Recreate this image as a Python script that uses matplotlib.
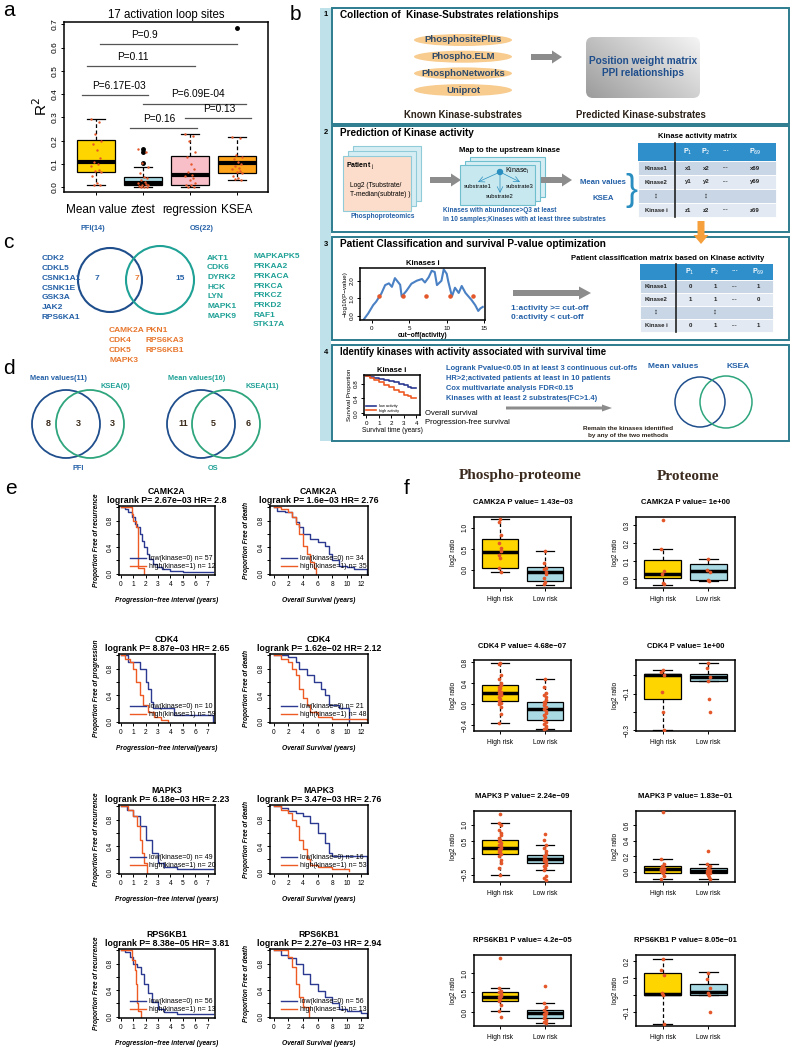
import matplotlib.pyplot as plt
import numpy as np
from matplotlib.patches import Ellipse, Circle, Rectangle, FancyBboxPatch, FancyArrow
from matplotlib.lines import Line2D
from matplotlib.colors import LinearSegmentedColormap

plt.rcParams['font.family'] = ['Liberation Sans', 'DejaVu Sans']
plt.rcParams['axes.unicode_minus'] = True

W, H = 792, 1053

# ---------------- data: panel a ----------------
methods = ['Mean value', 'ztest', 'regression', 'KSEA']
method_colors = ['#FFD500', '#A9DAE4', '#F8BFC8', '#FFA31A']
# q1, median, q3, whisker low, whisker high
a_box = [(0.065, 0.11, 0.205, 0.008, 0.295),
         (0.01, 0.02, 0.045, 0.0, 0.087),
         (0.012, 0.055, 0.133, 0.0, 0.23),
         (0.063, 0.105, 0.135, 0.033, 0.218)]
a_fliers = [[], [0.165, 0.15, 0.105], [], [0.685]]
a_points = [[0.295, 0.28, 0.23, 0.2, 0.185, 0.16, 0.125, 0.11, 0.1, 0.09, 0.075, 0.07, 0.065, 0.05, 0.02, 0.012, 0.008],
            [0.165, 0.15, 0.105, 0.087, 0.06, 0.045, 0.04, 0.03, 0.025, 0.02, 0.015, 0.01, 0.008, 0.005, 0.003, 0.0, 0.0],
            [0.23, 0.22, 0.2, 0.15, 0.13, 0.1, 0.08, 0.065, 0.055, 0.05, 0.04, 0.03, 0.02, 0.012, 0.008, 0.003, 0.0],
            [0.218, 0.21, 0.14, 0.13, 0.12, 0.11, 0.1, 0.09, 0.085, 0.08, 0.07, 0.065, 0.06, 0.05, 0.04, 0.035, 0.033]]
# label, line start, line end, line height, text x
a_tests = [('P=0.9', 1.09, 4.0, 0.614, 2.04),
           ('P=0.11', 0.81, 3.1, 0.519, 1.79),
           ('P=6.17E-03', 0.7, 2.1, 0.395, 1.5),
           ('P=6.09E-04', 2.0, 4.2, 0.36, 3.17),
           ('P=0.13', 2.9, 4.3, 0.296, 3.63),
           ('P=0.16', 1.72, 3.15, 0.253, 2.34)]

# ---------------- data: panel b ----------------
known_dbs = ['PhosphositePlus', 'Phospho.ELM', 'PhosphoNetworks', 'Uniprot']
act_cols = ['', 'P$_1$', 'P$_2$', '\u00b7\u00b7\u00b7', 'P$_{69}$']
act_rows = [['Kinase1', 'x1', 'x2', '\u00b7\u00b7\u00b7', 'x69'],
            ['Kinase2', 'y1', 'y2', '\u00b7\u00b7\u00b7', 'y69'],
            ['\u22ee', '', '\u22ee', '', ''],
            ['Kinase i', 'z1', 'z2', '\u00b7\u00b7\u00b7', 'z69']]
cls_rows = [['Kinase1', '0', '1', '\u00b7\u00b7\u00b7', '1'],
            ['Kinase2', '1', '1', '\u00b7\u00b7\u00b7', '0'],
            ['\u22ee', '', '\u22ee', '', ''],
            ['Kinase i', '0', '1', '\u00b7\u00b7\u00b7', '1']]
cut_x = [-1.1, -0.45, 0.2, 0.6, 1.3, 1.8, 2.3, 2.7, 3.1, 3.8, 4.0, 4.6, 5.3, 6.0, 6.7, 7.1, 7.6, 8.0, 8.4, 8.7,
         9.3, 9.6, 10.0, 10.2, 10.7, 11.1, 11.6, 12.0, 12.5, 12.9, 13.3, 13.8, 14.2, 14.5, 14.8]
cut_p = [-0.25, 0.13, 0.6, 0.8, 1.27, 1.75, 1.85, 1.65, 2.15, 1.77, 1.1, 1.4, 1.83, 2.0, 2.1, 1.9, 2.2, 2.57, 2.5, 1.75,
         2.0, 2.65, 2.4, 1.97, 1.1, 1.6, 1.3, 1.7, 1.3, 1.1, 0.9, 0.6, 0.27, 0.42, 0.5]
cut_sig_x = [1.0, 4.2, 7.3, 10.4, 13.5]
cut_sig_p = [1.1, 1.1, 1.1, 1.1, 1.1]
mini_t = [0, 0.3, 0.6, 1.0, 1.4, 1.8, 2.2, 2.6, 3.0, 3.3, 3.6, 4.0]
mini_low = [1, 0.97, 0.95, 0.93, 0.9, 0.87, 0.85, 0.8, 0.76, 0.7, 0.68, 0.68]
mini_high = [1, 0.95, 0.9, 0.83, 0.77, 0.7, 0.63, 0.57, 0.5, 0.45, 0.4, 0.4]
criteria = ['Logrank Pvalue<0.05 in at least 3 continuous cut-offs',
            'HR>2;activated patients at least in 10 patients',
            'Cox multivariate analysis FDR<0.15',
            'Kinases with at least 2 substrates(FC>1.4)']

# ---------------- data: panels c, d ----------------
pfi_only = ['CDK2', 'CDKL5', 'CSNK1A1', 'CSNK1E', 'GSK3A', 'JAK2', 'RPS6KA1']
os_only_a = ['AKT1', 'CDK6', 'DYRK2', 'HCK', 'LYN', 'MAPK1', 'MAPK9']
os_only_b = ['MAPKAPK5', 'PRKAA2', 'PRKACA', 'PRKCA', 'PRKCZ', 'PRKD2', 'RAF1', 'STK17A']
shared_a = ['CAMK2A', 'CDK4', 'CDK5', 'MAPK3']
shared_b = ['PKN1', 'RPS6KA3', 'RPS6KB1']
c_counts = [7, 7, 15]
d_pfi_counts = [8, 3, 3]
d_os_counts = [11, 5, 6]

# ---------------- data: panel e ----------------
genes = ['CAMK2A', 'CDK4', 'MAPK3', 'RPS6KB1']
pfi_stat = ['logrank P= 2.67e\u221203 HR= 2.8', 'logrank P= 8.87e\u221203 HR= 2.65',
            'logrank P= 6.18e\u221203 HR= 2.23', 'logrank P= 8.38e\u221205 HR= 3.81']
os_stat = ['logrank P= 1.6e\u221203 HR= 2.76', 'logrank P= 1.62e\u221202 HR= 2.12',
           'logrank P= 3.47e\u221203 HR= 2.76', 'logrank P= 2.27e\u221203 HR= 2.94']
pfi_n = [(57, 12), (10, 59), (49, 20), (56, 13)]
os_n = [(34, 35), (21, 48), (16, 53), (56, 13)]
pfi_ylab = ['Proportion Free of recurrence', 'Proportion Free of progression',
            'Proportion Free of recurrence', 'Proportion Free of recurrence']
pfi_xlab = ['Progression\u2212free interval (years)', 'Progression\u2212free interval(years)',
            'Progression\u2212free interval (years)', 'Progression\u2212free interval (years)']
pfi_low_t = [[0, 0.3, 0.6, 0.9, 1.1, 1.3, 1.5, 1.7, 1.9, 2.1, 2.3, 2.6, 2.9, 3.3, 4.0, 5.0, 7.4],
             [0, 0.6, 1.5, 2.0, 2.2, 2.4, 2.6, 4.3, 7.4],
             [0, 0.5, 1.0, 1.5, 2.0, 2.5, 3.0, 3.5, 4.5, 7.4],
             [0, 0.3, 0.7, 1.0, 1.3, 1.6, 1.9, 2.2, 2.5, 3.0, 3.5, 4.5, 7.4]]
pfi_low_s = [[1, 0.97, 0.93, 0.85, 0.75, 0.7, 0.6, 0.5, 0.4, 0.3, 0.22, 0.15, 0.1, 0.07, 0.04, 0.03, 0.03],
             [1, 0.9, 0.8, 0.6, 0.5, 0.3, 0.2, 0.1, 0.0],
             [1, 0.95, 0.85, 0.7, 0.5, 0.3, 0.15, 0.08, 0.05, 0.05],
             [1, 0.97, 0.9, 0.8, 0.75, 0.65, 0.5, 0.35, 0.22, 0.12, 0.07, 0.04, 0.04]]
pfi_high_t = [[0, 0.9, 1.0, 1.2, 1.35, 1.9],
              [0, 0.3, 0.7, 1.0, 1.2, 1.5, 1.8, 2.2, 2.7, 3.2, 3.8],
              [0, 0.6, 1.0, 1.3, 1.5, 1.7, 1.9, 2.1],
              [0, 0.9, 1.1, 1.2, 1.3, 1.4, 1.6]]
pfi_high_s = [[1, 0.9, 0.8, 0.7, 0.08, 0.0],
              [1, 0.95, 0.9, 0.8, 0.6, 0.4, 0.25, 0.15, 0.07, 0.03, 0.0],
              [1, 0.95, 0.85, 0.7, 0.5, 0.3, 0.15, 0.0],
              [1, 0.85, 0.7, 0.5, 0.2, 0.08, 0.0]]
os_low_t = [[0, 0.5, 1.5, 2.5, 3.0, 3.5, 4.0, 5.0, 6.0, 7.0, 7.5, 8.0, 9.0, 10.0, 11.0, 12.7],
            [0, 2.0, 3.0, 3.5, 4.5, 5.5, 6.5, 7.0, 7.5, 9.0, 10.3],
            [0, 1.0, 2.0, 3.0, 4.0, 5.0, 6.0, 7.0, 7.5, 8.0, 12.7],
            [0, 1.0, 2.0, 3.0, 4.0, 5.0, 6.0, 7.0, 8.0, 9.0, 10.0, 12.0, 12.7]]
os_low_s = [[1, 0.95, 0.93, 0.85, 0.78, 0.7, 0.6, 0.53, 0.48, 0.42, 0.3, 0.2, 0.12, 0.1, 0.07, 0.0],
            [1, 0.97, 0.9, 0.8, 0.7, 0.6, 0.5, 0.4, 0.25, 0.2, 0.0],
            [1, 0.97, 0.93, 0.9, 0.85, 0.75, 0.6, 0.45, 0.3, 0.25, 0.0],
            [1, 0.93, 0.88, 0.8, 0.65, 0.5, 0.38, 0.3, 0.2, 0.12, 0.08, 0.05, 0.0]]
os_high_t = [[0, 1.0, 2.0, 2.5, 3.0, 3.5, 4.0, 4.5, 5.0, 5.5, 5.8],
             [0, 1.0, 2.0, 2.5, 3.0, 3.5, 4.0, 4.5, 5.0, 6.0, 8.0, 12.7],
             [0, 1.0, 2.0, 2.5, 3.0, 3.5, 4.0, 4.5, 5.0, 6.0, 8.0, 10.3],
             [0, 1.0, 2.0, 2.5, 3.0, 3.5, 4.0, 4.8]]
os_high_s = [[1, 0.97, 0.93, 0.85, 0.75, 0.6, 0.42, 0.3, 0.18, 0.08, 0.0],
             [1, 0.95, 0.9, 0.8, 0.7, 0.5, 0.35, 0.25, 0.15, 0.07, 0.04, 0.02],
             [1, 0.95, 0.9, 0.8, 0.7, 0.5, 0.35, 0.2, 0.12, 0.08, 0.05, 0.03],
             [1, 1.0, 0.9, 0.75, 0.5, 0.3, 0.15, 0.0]]

# ---------------- data: panel f ----------------
ph_pval = ['1.43e\u221203', '4.68e\u221207', '2.24e\u221209', '4.2e\u221205']
pr_pval = ['1e+00', '1e+00', '1.83e\u221201', '8.05e\u221201']
ph_high_box = [(0.05, 0.43, 0.74, -0.04, 1.22), (0.06, 0.22, 0.36, -0.36, 0.79),
               (0.12, 0.30, 0.53, -0.5, 1.06), (0.28, 0.38, 0.5, 0.03, 0.62)]
ph_low_box = [(-0.27, -0.04, 0.06, -0.35, 0.44), (-0.31, -0.1, 0.05, -0.47, 0.48),
              (-0.15, -0.02, 0.1, -0.37, 0.4), (-0.15, -0.02, 0.05, -0.28, 0.24)]
pr_high_box = [(0.005, 0.03, 0.107, -0.035, 0.165), (-0.13, 0.0, 0.01, -0.3, 0.03),
               (-0.01, 0.04, 0.07, -0.09, 0.17), (0.0, 0.005, 0.13, -0.17, 0.21)]
pr_low_box = [(-0.008, 0.045, 0.083, -0.01, 0.112), (-0.03, -0.01, 0.01, -0.03, 0.07),
              (-0.02, 0.01, 0.045, -0.09, 0.1), (0.0, 0.02, 0.065, 0.0, 0.135)]
ph_high_pts = [[1.22, 1.15, 0.82, 0.63, 0.53, 0.45, 0.35, 0.28, 0.05, -0.04],
               [0.79, 0.77, 0.56, 0.47, 0.4, 0.36, 0.33, 0.3, 0.27, 0.24, 0.22, 0.2, 0.17, 0.14, 0.1, 0.06, 0.03, 0.0, -0.05, -0.18, -0.36],
               [1.33, 1.06, 1.0, 0.85, 0.75, 0.68, 0.6, 0.55, 0.5, 0.45, 0.4, 0.35, 0.3, 0.27, 0.22, 0.18, 0.12, 0.05, -0.05, -0.15, -0.3, -0.5],
               [1.38, 0.62, 0.55, 0.5, 0.47, 0.42, 0.38, 0.33, 0.28, 0.17, 0.03, -0.13]]
ph_low_pts = [[0.44, 0.17, 0.05, 0.02, -0.04, -0.1, -0.2, -0.28, -0.33],
              [0.48, 0.33, 0.21, 0.17, 0.13, 0.08, 0.05, 0.02, -0.02, -0.06, -0.1, -0.13, -0.17, -0.21, -0.25, -0.3, -0.34, -0.38, -0.42, -0.45, -0.47],
              [0.72, 0.55, 0.4, 0.3, 0.2, 0.12, 0.07, 0.02, -0.02, -0.06, -0.1, -0.15, -0.2, -0.25, -0.3, -0.37, -0.55, -0.6, -0.65],
              [0.66, 0.24, 0.12, 0.05, 0.0, -0.03, -0.06, -0.1, -0.15, -0.2, -0.25, -0.28]]
pr_high_pts = [[0.33, 0.165, 0.045, 0.03, -0.02, -0.03],
               [0.03, 0.02, 0.0, -0.09, -0.2, -0.3],
               [0.77, 0.17, 0.1, 0.08, 0.06, 0.05, 0.04, 0.03, 0.02, 0.01, 0.0, -0.02, -0.05, -0.09],
               [0.21, 0.15, 0.12, 0.01, 0.0, -0.17]]
pr_low_pts = [[0.11, 0.05, 0.04, -0.005, -0.01],
              [0.07, 0.04, -0.01, -0.03, -0.13, -0.2],
              [0.27, 0.1, 0.08, 0.05, 0.03, 0.02, 0.01, 0.0, -0.01, -0.02, -0.04, -0.06, -0.09],
              [0.13, 0.095, 0.045, 0.01, 0.0, -0.1]]
ph_ylim = [(-0.43, 1.26), (-0.51, 0.84), (-0.72, 1.41), (-0.36, 1.46)]
ph_yticks = [[0, 0.5, 1.0], [-0.4, 0.0, 0.4, 0.8], [-0.5, 0.0, 0.5, 1.0], [0.0, 0.5, 1.0]]
ph_ylabels = [['0.0', '0.5', '1.0'], ['\u22120.4', '0.0', '0.4', '0.8'], ['\u22120.5', '', '0.5', '1.0'], ['0.0', '0.5', '1.0']]
pr_ylim = [(-0.05, 0.345), (-0.305, 0.085), (-0.13, 0.78), (-0.18, 0.235)]
pr_yticks = [[0, 0.1, 0.2, 0.3], [-0.3, -0.2, -0.1, 0.0], [0, 0.2, 0.4, 0.6], [-0.1, 0.0, 0.1, 0.2]]
pr_ylabels = [['0.0', '0.1', '0.2', '0.3'], ['\u22120.3', '', '\u22120.1', ''], ['0.0', '0.2', '0.4', '0.6'], ['\u22120.1', '', '0.1', '0.2']]

# ---------------- colours ----------------
DOT = '#E4572A'
KM_BLUE = '#2B3990'
KM_ORANGE = '#EE5A24'
CBLUE = '#1F4E8C'
TBLUE = '#2460A7'
TEAL = '#1FA196'
GREEN = '#2EA57C'
ORANGE = '#E8772E'
FRAME = '#2D7C8E'

fig = plt.figure(figsize=(W / 100, H / 100), dpi=100)


def px_axes(x0, y0, x1, y1):
    return fig.add_axes([x0 / W, 1 - y1 / H, (x1 - x0) / W, (y1 - y0) / H])


def r_style(ax, fs=5):
    for s in ax.spines.values():
        s.set_linewidth(1.1)
    ax.tick_params(labelsize=fs, length=2.5, width=0.7, pad=1.5)
    for lab in ax.get_yticklabels():
        lab.set_rotation(90)
        lab.set_va('center')


bg = fig.add_axes([0, 0, 1, 1])
bg.set_xlim(0, W)
bg.set_ylim(H, 0)
bg.axis('off')

# panel letters
for letter, x, y in [('a', 3, 10), ('b', 290, 14), ('c', 3, 242), ('d', 3, 368), ('e', 5, 489), ('f', 404, 489)]:
    bg.text(x, y, letter, fontsize=15, va='center', ha='left')

# ================= panel a =================
ax = px_axes(64, 22, 268, 192)
pos = np.arange(1, len(methods) + 1)
stats = [dict(q1=b[0], med=b[1], q3=b[2], whislo=b[3], whishi=b[4], fliers=f) for b, f in zip(a_box, a_fliers)]
bp = ax.bxp(stats, positions=pos, widths=0.8, capwidths=0.4, patch_artist=True,
            boxprops=dict(linewidth=0.9), whiskerprops=dict(linestyle=(0, (3, 2)), linewidth=0.9),
            capprops=dict(linewidth=0.9), medianprops=dict(color='black', linewidth=3),
            flierprops=dict(marker='o', markerfacecolor='black', markeredgecolor='black', markersize=2.5))
for patch, c in zip(bp['boxes'], method_colors):
    patch.set_facecolor(c)
jit = np.array([-0.1, 0.06, -0.03, 0.11, -0.07, 0.02, 0.09, -0.05, 0.04, -0.11, 0.07, -0.01, 0.1, -0.08, 0.03, -0.04, 0.08])
for p, pts in zip(pos, a_points):
    ax.scatter(p + jit[:len(pts)], pts, s=3, color=DOT, zorder=4, linewidths=0)
for label, x0, x1, y, tx in a_tests:
    ax.plot([x0, x1], [y, y], color='#555555', lw=0.9)
    ax.text(tx, y + 0.042, label, ha='center', va='center', fontsize=7.3)
ax.set_xlim(0.32, 4.66)
ax.set_ylim(-0.02, 0.71)
ax.set_yticks(np.arange(0, 0.71, 0.1))
ax.set_yticklabels(['%.1f' % v for v in np.arange(0, 0.71, 0.1)])
ax.set_xticks(pos)
ax.set_xticklabels(methods, fontsize=8.5)
ax.set_ylabel('R$^2$', fontsize=11, labelpad=1)
ax.set_title('17 activation loop sites', fontsize=8.3, pad=3)
r_style(ax, 6)
ax.tick_params(axis='x', labelsize=8.5, pad=6)

# ================= panel b =================
bg.add_patch(Rectangle((320, 8), 11, 433, facecolor='#BFE2EA', edgecolor='none'))
for (y0, y1), num, title, fs in [((8, 124), '1', 'Collection of  Kinase-Substrates relationships', 7.2),
                                  ((126, 232), '2', 'Prediction of Kinase activity', 7.2),
                                  ((237, 340), '3', 'Patient Classification and survival P-value optimization', 7.3),
                                  ((345, 441), '4', 'Identify kinases with activity associated with survival time', 6.9)]:
    bg.add_patch(Rectangle((332, y0), 457, y1 - y0, facecolor='white', edgecolor=FRAME, lw=1.4))
    bg.text(326, y0 + 7, num, fontsize=5.5, fontweight='bold', ha='center', va='center')
    bg.text(340, y0 + 7, title, fontsize=fs, fontweight='bold', ha='left', va='center')

# box 1
for i, name in enumerate(known_dbs):
    yy = 40 + i * 16.7
    bg.add_patch(Ellipse((463, yy), 98, 12, facecolor='#F8CB8E', edgecolor='none'))
    bg.text(463, yy, name, fontsize=6.8, fontweight='bold', color='#2E4A6B', ha='center', va='center')
bg.add_patch(FancyArrow(531, 57, 31, 0, width=6, head_width=13, head_length=10,
                        length_includes_head=True, color='#8C8C8C', lw=0))
gbox = FancyBboxPatch((586, 37), 114, 61, boxstyle='round,pad=0,rounding_size=7', facecolor='none', edgecolor='none')
bg.add_patch(gbox)
gx, gy = np.meshgrid(np.linspace(0, 1, 60), np.linspace(0, 1, 40))
gcmap = LinearSegmentedColormap.from_list('g', ['#9C9C9C', '#F4F4F4'])
im = bg.imshow(0.6 * gx + 0.4 * (1 - gy), extent=(586, 700, 98, 37), cmap=gcmap, aspect='auto', zorder=1)
im.set_clip_path(gbox)
bg.text(643, 67, 'Position weight matrix\nPPI relationships', fontsize=7.3, fontweight='bold',
        color='#1F4E8C', ha='center', va='center', zorder=2, linespacing=1.3)
bg.text(463, 115, 'Known Kinase-substrates', fontsize=6.9, fontweight='bold', color='#2B2118', ha='center', va='center')
bg.text(641, 115, 'Predicted Kinase-substrates', fontsize=6.9, fontweight='bold', color='#2B2118', ha='center', va='center')

# box 2
for k in (2, 1):
    bg.add_patch(Rectangle((343 + 5 * k, 156 - 5 * k), 68, 55, facecolor='#D6EEF3', edgecolor='#8FCBD8', lw=0.8))
bg.add_patch(Rectangle((343, 156), 68, 55, facecolor='#FCDDCB', edgecolor='#8FCBD8', lw=0.8))
bg.text(346, 166, 'Patient $_{\\rm j}$', fontsize=5, fontweight='bold', ha='left', va='center')
bg.text(350, 190, 'Log2 (Tsubstrate/\nT-median(subtrate) )', fontsize=4.8, ha='left', va='center', linespacing=1.5)
bg.text(383, 217, 'Phosphoproteomics', fontsize=4.8, fontweight='bold', color=TBLUE, ha='center', va='center')
bg.add_patch(FancyArrow(430, 180, 31, 0, width=6, head_width=13, head_length=10,
                        length_includes_head=True, color='#8C8C8C', lw=0))
bg.text(510, 150, 'Map to the upstream kinase', fontsize=5.5, fontweight='bold', ha='center', va='center')
for k in (2, 1):
    bg.add_patch(Rectangle((460 + 5 * k, 165 - 4 * k), 75, 40, facecolor='#D6EEF3', edgecolor='#6FBFCF', lw=0.8))
bg.add_patch(Rectangle((460, 165), 75, 40, facecolor='#C7E8EF', edgecolor='#6FBFCF', lw=0.8))
bg.add_patch(Circle((500, 172), 2.5, color='#2A8FC0'))
bg.text(505, 171, 'Kinase$_{\\rm i}$', fontsize=5, ha='left', va='center')
for tx, ty, lab in [(478, 186, 'substrate1'), (520, 186, 'substrate3'), (500, 197, 'substrate2')]:
    bg.annotate('', xy=(tx, ty - 4), xytext=(500, 172),
                arrowprops=dict(arrowstyle='->', color='#2A8FC0', lw=0.5, shrinkA=2, shrinkB=0))
    bg.text(tx, ty, lab, fontsize=4.2, ha='center', va='center')
bg.text(443, 215, 'Kinases with abundance>Q3 at least\nin 10 samples;Kinases with at least three substrates',
        fontsize=4.7, fontweight='bold', color=TBLUE, ha='left', va='center', linespacing=1.4)
bg.add_patch(FancyArrow(541, 180, 31, 0, width=6, head_width=13, head_length=10,
                        length_includes_head=True, color='#8C8C8C', lw=0))
bg.text(603, 182, 'Mean values', fontsize=5.6, fontweight='bold', color=TBLUE, ha='center', va='center')
bg.text(603, 198, 'KSEA', fontsize=5.6, fontweight='bold', color=TBLUE, ha='center', va='center')
bg.text(631, 190, '}', fontsize=26, color='#2A8FC0', ha='center', va='center', fontweight='light')
bg.text(698, 137, 'Kinase activity matrix', fontsize=5.5, fontweight='bold', ha='center', va='center')


def draw_table(x0, x1, xdiv, col_x, head_y0, head_h, row_h, rows):
    bg.add_patch(Rectangle((x0, head_y0), x1 - x0, head_h, facecolor='#2F8FCB', edgecolor='none'))
    for cx, lab in zip(col_x[1:], act_cols[1:]):
        bg.text(cx, head_y0 + head_h / 2, lab, fontsize=5, color='white', fontweight='bold', ha='center', va='center')
    for r, row in enumerate(rows):
        ry = head_y0 + head_h + r * row_h
        bg.add_patch(Rectangle((x0, ry), x1 - x0, row_h, facecolor='#C9D6E6' if r % 2 == 0 else '#E2E9F2',
                               edgecolor='white', lw=0.6))
        for cx, v in zip(col_x, row):
            bg.text(cx, ry + row_h / 2, v, fontsize=4.3, fontweight='bold', ha='center', va='center', color='#222222')
    bg.plot([xdiv, xdiv], [head_y0, head_y0 + head_h + len(rows) * row_h], color='#222222', lw=1.2)


draw_table(638, 776, 675, [656, 688, 706, 726, 755], 143, 18, 14, act_rows)
bg.add_patch(FancyArrow(701, 221, 0, 23, width=7, head_width=15, head_length=9,
                        length_includes_head=True, color='#F5A03C', lw=0))

# box 3
axc = px_axes(360, 268, 485, 320)
axc.plot(cut_x, cut_p, color='#4A80C4', lw=1.5)
axc.scatter(cut_sig_x, cut_sig_p, s=5, color=DOT, zorder=3)
axc.set_xlim(-1.55, 15.1)
axc.set_ylim(-0.25, 2.73)
axc.set_xticks([0, 5, 10, 15])
axc.set_yticks([0, 1, 2])
axc.set_yticklabels(['0.0', '1.0', '2.0'])
axc.set_title('Kinases i', fontsize=5.5, fontweight='bold', pad=2)
axc.set_xlabel('cut\u2212off(activity)', fontsize=4.8, fontweight='bold', labelpad=1)
axc.set_ylabel('\u2212log10(P\u2212value)', fontsize=4.5, labelpad=1)
r_style(axc, 4.5)
bg.add_patch(FancyArrow(513, 293, 78, 0, width=6, head_width=13, head_length=12,
                        length_includes_head=True, color='#8C8C8C', lw=0))
bg.text(511, 313, '1:activity >= cut-off\n0:activity < cut-off', fontsize=6, fontweight='bold',
        color=TBLUE, ha='left', va='center', linespacing=1.4)
bg.text(668, 258, 'Patient classification matrix based on Kinase activity', fontsize=5.5,
        fontweight='bold', ha='center', va='center')
draw_table(640, 773, 676, [656, 690, 715, 735, 758], 264, 16, 13, cls_rows)

# box 4
axk = px_axes(364, 375, 420, 415)
axk.step(mini_t, mini_low, where='post', color=KM_BLUE, lw=1.2, label='low activity')
axk.step(mini_t, mini_high, where='post', color=KM_ORANGE, lw=1.2, label='high activity')
axk.set_xlim(-0.2, 4.3)
axk.set_ylim(-0.05, 1.03)
axk.set_xticks(range(5))
axk.set_yticks([0, 0.4, 0.8])
axk.set_yticklabels(['0.0', '0.4', '0.8'])
axk.set_title('Kinase i', fontsize=5.5, fontweight='bold', pad=2)
axk.set_xlabel('Survival time (years)', fontsize=4.8, labelpad=1)
axk.set_ylabel('Survival Proportion', fontsize=4.5, labelpad=1)
axk.legend(loc='lower left', fontsize=2.8, frameon=False, handlelength=2.5, borderaxespad=0.2, labelspacing=0.2)
r_style(axk, 4.5)
bg.text(425, 418, 'Overall survival\nProgression-free survival', fontsize=5.5, ha='left', va='center', linespacing=1.4)
for i, line in enumerate(criteria):
    bg.text(446, 369 + 10 * i, line, fontsize=5.4, fontweight='bold', color=TBLUE, ha='left', va='center')
bg.add_patch(FancyArrow(506, 408, 106, 0, width=3, head_width=7, head_length=10,
                        length_includes_head=True, color='#8C8C8C', lw=0))
bg.text(628, 432, 'Remain the kinases identified\nby any of the two methods', fontsize=4.6, fontweight='bold',
        color='#2B2118', ha='center', va='center', linespacing=1.4)
bg.text(673, 367, 'Mean values', fontsize=6, fontweight='bold', color=TBLUE, ha='center', va='center')
bg.text(738, 367, 'KSEA', fontsize=6, fontweight='bold', color=TBLUE, ha='center', va='center')
bg.add_patch(Circle((700, 402), 25, facecolor='none', edgecolor=CBLUE, lw=1.1))
bg.add_patch(Circle((726, 402), 26, facecolor='none', edgecolor=GREEN, lw=1.1))

# ================= panel c =================
bg.add_patch(Circle((110, 280), 32, facecolor='none', edgecolor=CBLUE, lw=1.5))
bg.add_patch(Circle((160, 280), 34, facecolor='none', edgecolor=TEAL, lw=1.5))
bg.text(93, 229, 'PFI(14)', fontsize=5.3, fontweight='bold', color=TBLUE, ha='center', va='center')
bg.text(202, 229, 'OS(22)', fontsize=5.3, fontweight='bold', color=TBLUE, ha='center', va='center')
for cx, val, col in zip([97, 137, 180], c_counts, [TBLUE, ORANGE, TBLUE]):
    bg.text(cx, 278, str(val), fontsize=6, fontweight='bold', color=col, ha='center', va='center')
for i, g in enumerate(pfi_only):
    bg.text(42, 259 + 9.7 * i, g, fontsize=6, fontweight='bold', color=TBLUE, ha='left', va='center')
for i, g in enumerate(os_only_a):
    bg.text(207, 258 + 9.7 * i, g, fontsize=6, fontweight='bold', color=TEAL, ha='left', va='center')
for i, g in enumerate(os_only_b):
    bg.text(253, 257 + 9.7 * i, g, fontsize=6, fontweight='bold', color=TEAL, ha='left', va='center')
for i, g in enumerate(shared_a):
    bg.text(109, 331 + 9.7 * i, g, fontsize=6, fontweight='bold', color=ORANGE, ha='left', va='center')
for i, g in enumerate(shared_b):
    bg.text(145, 331 + 9.7 * i, g, fontsize=6, fontweight='bold', color=ORANGE, ha='left', va='center')

# ================= panel d =================
for (cl, cr), counts, mlab, klab, name, mcol, ncol, mx, kx in [
        ((66, 90), d_pfi_counts, 'Mean values(11)', 'KSEA(6)', 'PFI', TBLUE, TBLUE, 58, 115),
        ((201, 226), d_os_counts, 'Mean values(16)', 'KSEA(11)', 'OS', TEAL, TEAL, 197, 262)]:
    bg.add_patch(Circle((cl, 424), 34, facecolor='none', edgecolor=CBLUE, lw=1.3))
    bg.add_patch(Circle((cr, 424), 34, facecolor='none', edgecolor=GREEN, lw=1.3))
    for cx, v in zip([cl - 18, (cl + cr) / 2, cr + 22], counts):
        bg.text(cx, 424, str(v), fontsize=6.5, fontweight='bold', color='#3A2A1A', ha='center', va='center')
    bg.text(mx, 378, mlab, fontsize=5.3, fontweight='bold', color=mcol, ha='center', va='center')
    bg.text(kx, 387, klab, fontsize=5.3, fontweight='bold', color=TEAL, ha='center', va='center')
    bg.text((cl + cr) / 2, 468, name, fontsize=5.3, fontweight='bold', color=ncol, ha='center', va='center')

# ================= panel e =================
row_top = [484, 632, 783, 927]


def km_plot(x0, x1, top, title, tl, sl, th, sh, ns, xlim, xticks, xlab, ylab):
    ax = px_axes(x0, top + 22, x1, top + 91)
    ax.step(tl, sl, where='post', color=KM_BLUE, lw=1)
    ax.step(th, sh, where='post', color=KM_ORANGE, lw=1)
    ax.set_xlim(*xlim)
    ax.set_ylim(-0.02, 1.02)
    ax.set_xticks(xticks)
    ax.set_yticks([0, 0.4, 0.8])
    ax.set_yticklabels(['0.0', '0.4', '0.8'])
    ax.yaxis.set_minor_locator(plt.FixedLocator([0.2, 0.6, 1.0]))
    ax.tick_params(which='minor', length=2.5, width=0.7)
    ax.set_title(title, fontsize=6.3, fontweight='bold', pad=2, linespacing=1.0)
    ax.set_xlabel(xlab, fontsize=4.8, fontweight='bold', style='italic', labelpad=7)
    ax.set_ylabel(ylab, fontsize=4.8, fontweight='bold', style='italic', labelpad=5)
    handles = [Line2D([], [], color=KM_BLUE, lw=1), Line2D([], [], color=KM_ORANGE, lw=1)]
    ax.legend(handles, ['low(kinase=0) n= %d' % ns[0], 'high(kinase=1) n= %d' % ns[1]],
              loc='lower left', bbox_to_anchor=(0.06, 0.0), frameon=False, fontsize=5,
              handlelength=2.3, handletextpad=0.5, labelspacing=0.1, borderaxespad=0.3)
    r_style(ax, 4.8)


for i, g in enumerate(genes):
    t = row_top[i]
    km_plot(119, 215, t, g + '\n' + pfi_stat[i], pfi_low_t[i], pfi_low_s[i], pfi_high_t[i], pfi_high_s[i],
            pfi_n[i], (-0.16, 7.6), range(8), pfi_xlab[i], pfi_ylab[i])
    km_plot(270, 368, t, g + '\n' + os_stat[i], os_low_t[i], os_low_s[i], os_high_t[i], os_high_s[i],
            os_n[i], (-0.5, 12.9), range(0, 13, 2), 'Overall Survival (years)', 'Proportion Free of death')

# ================= panel f =================
bg.text(520, 476, 'Phospho-proteome', fontsize=11, fontweight='bold', color='#3B2A1E', ha='center', va='center',
        family=['Liberation Serif', 'DejaVu Serif'])
bg.text(688, 476, 'Proteome', fontsize=11, fontweight='bold', color='#3B2A1E', ha='center', va='center',
        family=['Liberation Serif', 'DejaVu Serif'])
f_top = [499, 642, 793, 937]
fjit = np.array([0.0, -0.03, 0.03, -0.015, 0.015, 0.025, -0.025])


def risk_box(x0, x1, top, title, hb, lb, hp, lp, ylim, yt, ylab):
    ax = px_axes(x0, top + 18, x1, top + 89)
    st = [dict(q1=b[0], med=b[1], q3=b[2], whislo=b[3], whishi=b[4], fliers=[]) for b in (hb, lb)]
    bp = ax.bxp(st, positions=[1, 2], widths=0.8, capwidths=0.4, patch_artist=True,
                boxprops=dict(linewidth=0.9), whiskerprops=dict(linestyle=(0, (3, 2)), linewidth=0.9),
                capprops=dict(linewidth=0.9), medianprops=dict(color='black', linewidth=2.5))
    bp['boxes'][0].set_facecolor('#FFD500')
    bp['boxes'][1].set_facecolor('#A9DAE4')
    for p, pts in zip([1, 2], [hp, lp]):
        ax.scatter(p + np.resize(fjit, len(pts)), pts, s=7, color=DOT, zorder=4, linewidths=0)
    ax.set_xlim(0.42, 2.58)
    ax.set_ylim(*ylim)
    ax.set_yticks(yt)
    ax.set_yticklabels(ylab)
    ax.set_xticks([1, 2])
    ax.set_xticklabels(['High risk', 'Low risk'])
    ax.set_title(title, fontsize=5.5, fontweight='bold', pad=9)
    ax.set_ylabel('log2 ratio', fontsize=4.8, labelpad=3)
    r_style(ax, 4.8)
    ax.tick_params(axis='x', pad=3)


for i, g in enumerate(genes):
    t = f_top[i]
    risk_box(474, 571, t, '%s P value= %s' % (g, ph_pval[i]), ph_high_box[i], ph_low_box[i],
             ph_high_pts[i], ph_low_pts[i], ph_ylim[i], ph_yticks[i], ph_ylabels[i])
    risk_box(636, 735, t, '%s P value= %s' % (g, pr_pval[i]), pr_high_box[i], pr_low_box[i],
             pr_high_pts[i], pr_low_pts[i], pr_ylim[i], pr_yticks[i], pr_ylabels[i])

bg.set_xlim(0, W)
bg.set_ylim(H, 0)
fig.savefig('out.png', dpi=100)
